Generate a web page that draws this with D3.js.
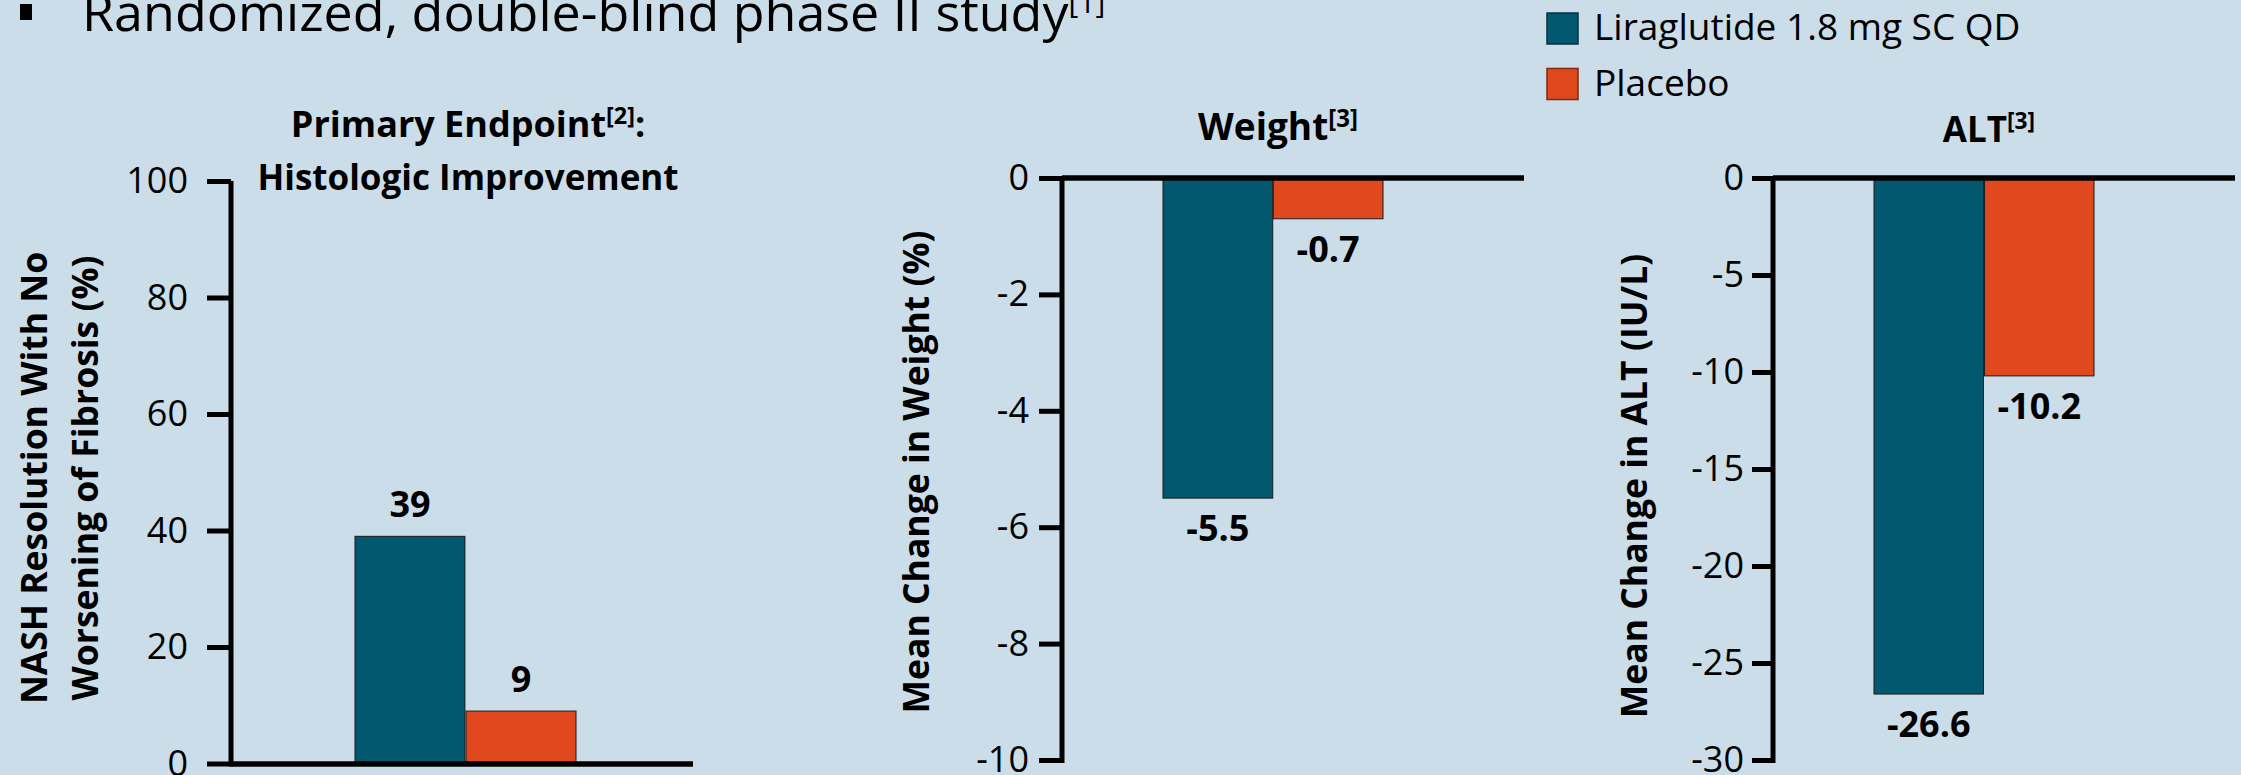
<!DOCTYPE html>
<html>
<head>
<meta charset="utf-8">
<script src="https://cdn.jsdelivr.net/npm/d3@7"></script>
<style>
  html, body { margin: 0; padding: 0; background: #CBDDE8; }
  svg { display: block; }
  text { font-family: "Open Sans", sans-serif; fill: #000; }
</style>
</head>
<body>
<svg id="chart" width="2241" height="775"></svg>
<script>
// Treatment arms
const groups = ["Liraglutide 1.8 mg SC QD", "Placebo"];
const groupColors = ["#02586F", "#E0481E"];

// Panel values (one per arm)
const nashValues = [39, 9];
const weightValues = [-5.5, -0.7];
const altValues = [-26.6, -10.2];

// Tick labels per panel
const nashTicks = [0, 20, 40, 60, 80, 100];
const weightTicks = [0, -2, -4, -6, -8, -10];
const altTicks = [0, -5, -10, -15, -20, -25, -30];

const svg = d3.select("#chart");
svg.append("rect").attr("width", 2241).attr("height", 775).attr("fill", "#CBDDE8");

// Heading bullet
svg.append("rect").attr("x", 20).attr("y", 4).attr("width", 12).attr("height", 16).attr("fill", "#000");
const head = svg.append("text").attr("x", 82).attr("y", 31).attr("font-size", 52);
head.append("tspan").text("Randomized, double-blind phase II study");
head.append("tspan").attr("font-size", 30).attr("dy", -18).text("[1]");

// Legend
const legend = svg.append("g");
groups.forEach((g, i) => {
  legend.append("rect").attr("x", 1547).attr("y", 13 + i * 55.5).attr("width", 31).attr("height", 31)
    .attr("fill", groupColors[i]).attr("stroke", i === 0 ? "#0b2f3c" : "#7a2a10").attr("stroke-width", 1.5);
  legend.append("text").attr("x", 1594).attr("y", 40 + i * 55.5).attr("font-size", 37).text(g);
});

function panel(cfg) {
  const g = svg.append("g").attr("transform", `translate(${cfg.x0},0)`);
  const width = cfg.x1 - cfg.x0;
  const y = d3.scaleLinear().domain(cfg.domain).range([cfg.yBot, cfg.yTop]);
  const x = d3.scaleBand().domain(groups).range(cfg.band).paddingInner(cfg.gap);

  // Bars
  g.selectAll("rect.bar").data(cfg.values).join("rect")
    .attr("class", "bar")
    .attr("x", (d, i) => x(groups[i]))
    .attr("width", x.bandwidth())
    .attr("y", d => Math.min(y(d), y(0)))
    .attr("height", d => Math.abs(y(d) - y(0)))
    .attr("fill", (d, i) => groupColors[i])
    .attr("stroke", "#1b1b1b").attr("stroke-width", 1);

  // Value labels
  g.selectAll("text.val").data(cfg.values).join("text")
    .attr("class", "val")
    .attr("x", (d, i) => x(groups[i]) + x.bandwidth() / 2)
    .attr("y", d => d >= 0 ? y(d) - 19 : y(d) + 43)
    .attr("text-anchor", "middle")
    .attr("font-size", 36).attr("font-weight", "bold")
    .text(d => d);

  // Value axis
  const ax = g.append("g").call(
    d3.axisLeft(y).tickValues(cfg.ticks).tickFormat(d => String(d))
      .tickSize(cfg.tickLen).tickSizeOuter(0).tickPadding(cfg.pad)
  );
  ax.select(".domain").attr("stroke", "#000").attr("stroke-width", 5)
    .attr("d", `M0,${cfg.yTop}V${cfg.yBot + 3}`);
  ax.selectAll(".tick line").attr("stroke", "#000").attr("stroke-width", 5);
  ax.selectAll(".tick text").attr("font-size", 36).attr("font-family", null).attr("fill", "#000");

  // Category baseline at zero
  g.append("line").attr("x1", 0).attr("x2", width)
    .attr("y1", y(0) + cfg.baseOff).attr("y2", y(0) + cfg.baseOff)
    .attr("stroke", "#000").attr("stroke-width", 5.5);

  // Axis title (rotated)
  cfg.ylabel.forEach((line, i) => {
    svg.append("text")
      .attr("transform", `translate(${cfg.ylabelX[i]},${cfg.ylabelY}) rotate(-90)`)
      .attr("text-anchor", "middle").attr("font-size", 35.5).attr("font-weight", "bold")
      .text(line);
  });

  // Panel title
  cfg.title.forEach((t, i) => {
    const tt = svg.append("text").attr("x", cfg.titleX).attr("y", cfg.titleY[i])
      .attr("text-anchor", "middle").attr("font-size", cfg.titleSize[i]).attr("font-weight", "bold");
    tt.append("tspan").text(t.main);
    if (t.sup) tt.append("tspan").attr("font-size", cfg.titleSize[i] * 0.65).attr("dy", -13).text(t.sup);
    if (t.after) tt.append("tspan").attr("dy", 13).text(t.after);
  });
}

panel({
  x0: 231, x1: 693, yTop: 181, yBot: 763.5, domain: [0, 100],
  band: [124, 345], gap: 0.01, values: nashValues, ticks: nashTicks,
  tickLen: 24, pad: 19, baseOff: 0.5,
  ylabel: ["NASH Resolution With No", "Worsening of Fibrosis (%)"], ylabelX: [47, 98], ylabelY: 478,
  title: [{ main: "Primary Endpoint", sup: "[2]", after: ":" }, { main: "Histologic Improvement" }],
  titleX: 468, titleY: [137, 190], titleSize: [36, 35]
});

panel({
  x0: 1062, x1: 1524, yTop: 178, yBot: 760, domain: [-10, 0],
  band: [101, 321], gap: 0.005, values: weightValues, ticks: weightTicks,
  tickLen: 23, pad: 10, baseOff: 0,
  ylabel: ["Mean Change in Weight (%)"], ylabelX: [929], ylabelY: 472,
  title: [{ main: "Weight", sup: "[3]" }],
  titleX: 1278, titleY: [140], titleSize: [37]
});

panel({
  x0: 1773, x1: 2235, yTop: 178, yBot: 760, domain: [-30, 0],
  band: [101, 321], gap: 0.01, values: altValues, ticks: altTicks,
  tickLen: 21, pad: 8, baseOff: 0,
  ylabel: ["Mean Change in ALT (IU/L)"], ylabelX: [1647], ylabelY: 486,
  title: [{ main: "ALT", sup: "[3]" }],
  titleX: 1989, titleY: [142], titleSize: [35]
});
</script>
</body>
</html>
